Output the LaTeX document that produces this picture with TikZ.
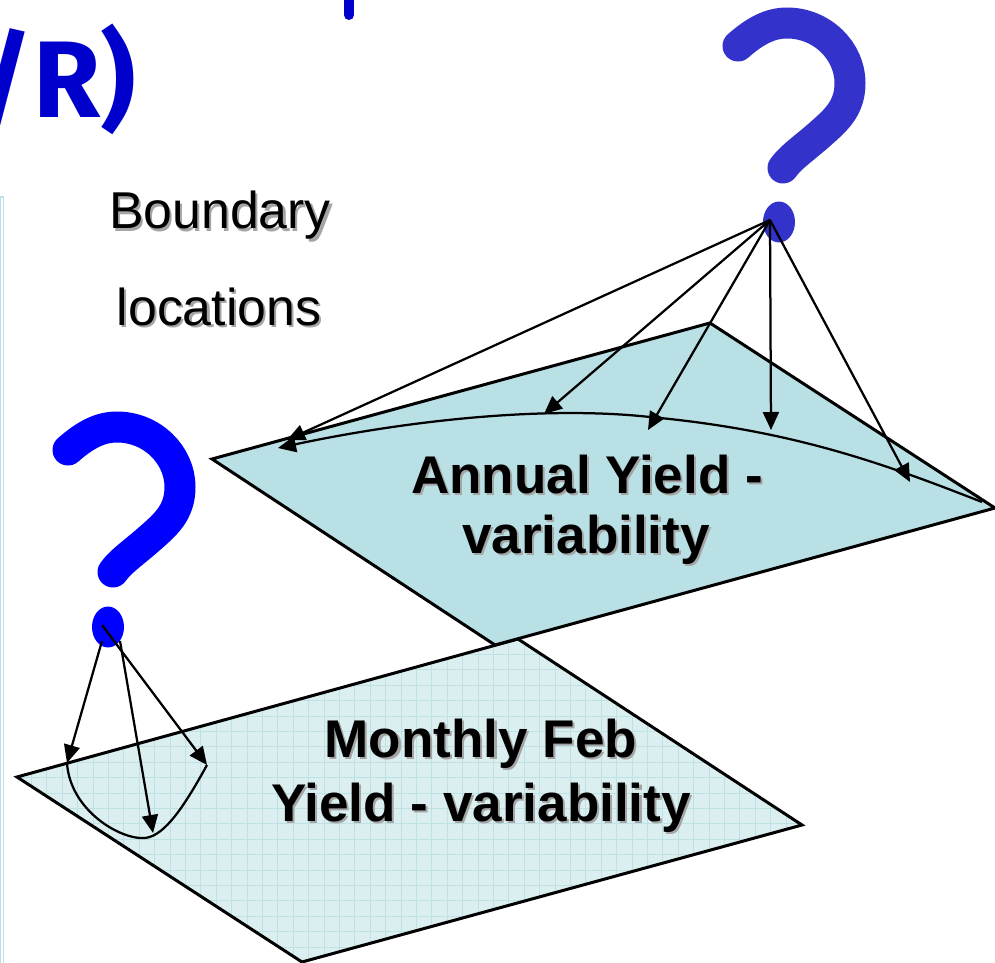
\documentclass[tikz,border=0pt]{standalone}
\usepackage{fontspec}
\setmainfont{Liberation Sans}
\newfontfamily\handfont{Fira Sans}
\usetikzlibrary{arrows.meta,calc}
\definecolor{upfill}{RGB}{185,224,228}
\definecolor{lowfill}{RGB}{219,238,240}
\definecolor{gridc}{RGB}{190,226,228}
\definecolor{qdark}{RGB}{51,51,204}
\definecolor{qblue}{RGB}{0,0,255}
\definecolor{titleblue}{RGB}{0,0,204}
\definecolor{shadowgray}{RGB}{165,165,165}
\definecolor{panelc}{RGB}{185,225,230}
\newcommand\shtxt[1]{\makebox[0pt][l]{\hspace{1.2pt}\raisebox{-1.2pt}{\textcolor{shadowgray}{#1}}}#1}
\newcommand\qmarkpath{(68,450) .. controls (85,435) and (100,427) .. (117,427) .. controls (152,427) and (180,455) .. (180,487) .. controls (180,513) and (165,525) .. (148,540) .. controls (133,553) and (120,562) .. (113,572)}
\begin{document}
\begin{tikzpicture}[x=0.02cm,y=-0.02cm,
  plane/.style={draw=black,line width=0.06cm,line join=miter},
  link/.style={draw=black,line width=0.045cm,-{Triangle[length=0.36cm,width=0.32cm]}},
  bound/.style={draw=black,line width=0.045cm},
  qstroke/.style={line width=0.62cm,line cap=round},
  lbl/.style={font=\fontsize{29.5}{34}\selectfont,inner sep=0pt,anchor=base},
  blbl/.style={font=\fontsize{30.2}{34}\selectfont\bfseries,inner sep=0pt,anchor=base}]
\useasboundingbox (0,0) rectangle (995,963);
\clip (0,0) rectangle (995,963);

% panel edge at the left
\draw[panelc,line width=0.025cm] (0.7,197) rectangle (3.6,990);

% title fragment
\node[anchor=base east,inner sep=0pt,text=titleblue,font=\handfont\bfseries\fontsize{62}{70}\selectfont] (title) at (136,118) {/R)};
\draw[titleblue,line width=0.2cm,line cap=round] (349,-10) -- (349,15);

% lower plane
\coordinate (LL) at (17,777);
\coordinate (LT) at (518,639);
\coordinate (LR) at (802,825);
\coordinate (LB) at (302,962);
\fill[lowfill] (LL)--(LT)--(LR)--(LB)--cycle;
\begin{scope}
  \clip (LL)--(LT)--(LR)--(LB)--cycle;
  \foreach \i in {0,...,53} \draw[gridc,line width=0.02cm] (0.6+15.4*\i,620) -- ++(0,360);
  \foreach \j in {0,...,23} \draw[gridc,line width=0.02cm] (0,623.6+15.4*\j) -- ++(830,0);
\end{scope}
\draw[plane] (LL)--(LT)--(LR)--(LB)--cycle;

% upper plane
\coordinate (UL) at (212,459);
\coordinate (UT) at (710,323);
\coordinate (UR) at (995,508);
\coordinate (UB) at (495,645);
\draw[plane,fill=upfill] (UL)--(UT)--(UR)--(UB)--cycle;

% question marks
\draw[qblue,qstroke] \qmarkpath;
\fill[qblue] (108,627) ellipse [x radius=0.32cm, y radius=0.41cm];
\begin{scope}[shift={(670,-404)}]
  \draw[qdark,qstroke] \qmarkpath;
  \fill[qdark] (109,626) ellipse [x radius=0.32cm, y radius=0.41cm];
\end{scope}

% texts
\node[lbl] (bnd) at (220,229) {\shtxt{Boundary}};
\node[lbl] (loc) at (219,325) {\shtxt{locations}};
\node[blbl] (ann1) at (587,493) {\shtxt{Annual Yield -}};
\node[blbl] (ann2) at (586,553) {\shtxt{variability}};
\node[blbl] (mon1) at (481,757) {\shtxt{Monthly Feb}};
\node[blbl] (mon2) at (481,821) {\shtxt{Yield - variability}};

% upper boundary curve
\coordinate (uc0) at (982,502);
\coordinate (uc1) at (650,417);
\coordinate (uc2) at (278,448);
\draw[link] (uc0) .. controls (880,462) and (790,430) .. (uc1) .. controls (540,405) and (400,422) .. (uc2);

% upper arrows
\coordinate (qa) at (770,220);
\coordinate (t1) at (287,440);
\coordinate (t2) at (544,414);
\coordinate (t3) at (648,430);
\coordinate (t4) at (771,430);
\coordinate (t5) at (910,482);
\foreach \t in {t1,t2,t3,t4,t5} \draw[link] (qa) -- (\t);

% lower boundary curve
\coordinate (s1) at (67,763);
\coordinate (s2) at (153,833);
\coordinate (s3) at (207,765);
\draw[bound] (s1) .. controls (70,810) and (120,840) .. (145,838) .. controls (165,836) and (185,805) .. (s3);

% lower arrows
\coordinate (la1) at (102,641);
\coordinate (la2) at (120,641);
\coordinate (la3) at (102,625);
\draw[link] (la1) -- (s1);
\draw[link] (la2) -- (s2);
\draw[link] (la3) -- (s3);
\end{tikzpicture}
\end{document}
